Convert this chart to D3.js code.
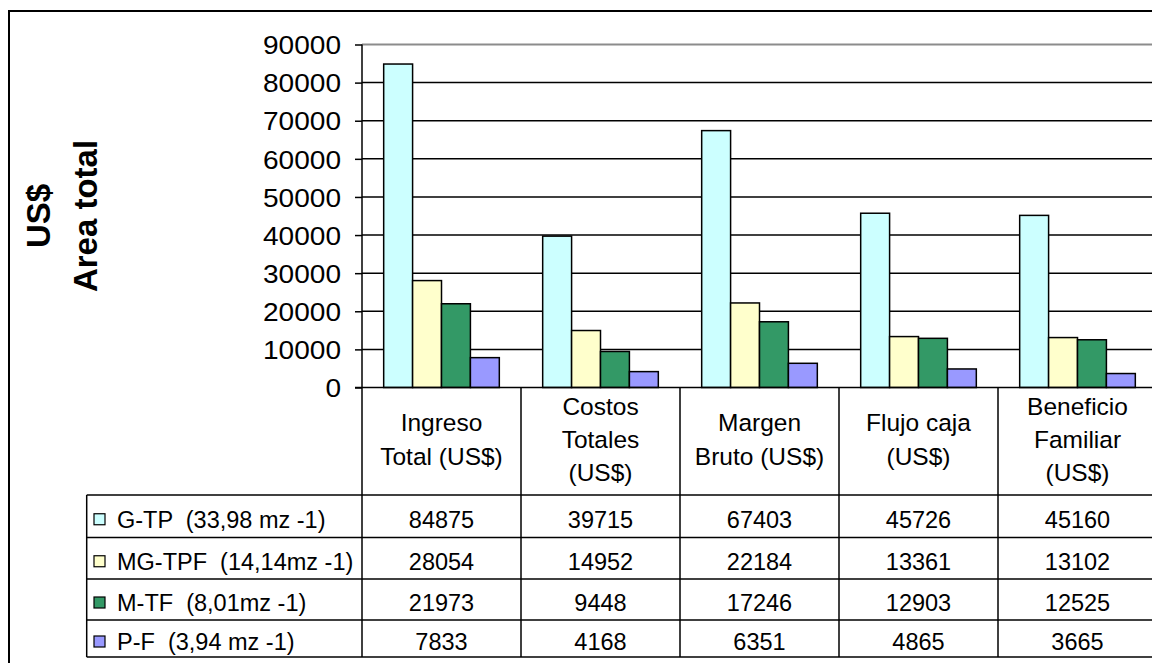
<!DOCTYPE html>
<html>
<head>
<meta charset="utf-8">
<script src="https://cdn.jsdelivr.net/npm/d3@7"></script>
<style>
  html, body { margin: 0; padding: 0; background: #fff; }
  svg { display: block; font-family: "Liberation Sans", Arial, sans-serif; }
  .pre { white-space: pre; }
</style>
</head>
<body>
<svg id="chart" width="1152" height="663"></svg>
<script>
// ---- data ----
const categories = ["Ingreso Total (US$)", "Costos Totales (US$)", "Margen Bruto (US$)", "Flujo caja (US$)", "Beneficio Familiar (US$)"];
const categoryLines = [["Ingreso", "Total (US$)"], ["Costos", "Totales", "(US$)"], ["Margen", "Bruto (US$)"], ["Flujo caja", "(US$)"], ["Beneficio", "Familiar", "(US$)"]];
const seriesNames = ["G-TP  (33,98 mz -1)", "MG-TPF  (14,14mz -1)", "M-TF  (8,01mz -1)", "P-F  (3,94 mz -1)"];
const gtpValues   = [84875, 39715, 67403, 45726, 45160];
const mgtpfValues = [28054, 14952, 22184, 13361, 13102];
const mtfValues   = [21973,  9448, 17246, 12903, 12525];
const pfValues    = [ 7833,  4168,  6351,  4865,  3665];
const yTicks = [0, 10000, 20000, 30000, 40000, 50000, 60000, 70000, 80000, 90000];
const axisTitle = ["US$", "Area total"];

const seriesValues = [gtpValues, mgtpfValues, mtfValues, pfValues];
const seriesColors = ["#CCFFFF", "#FFFFCC", "#339966", "#9999FF"];

// ---- layout ----
const svg = d3.select("#chart");
const W = 1152, H = 663;
const plotLeft = 362, plotRight = 1157, plotTop = 44.5, plotBottom = 387.5;
const tableLeft = 86.7, gridEnd = 1165;
const rowLines = [495, 537.5, 579, 620, 657];

const x = d3.scaleBand().domain(categories).range([plotLeft, plotRight]).paddingInner(0).paddingOuter(0);
const xs = d3.scaleBand().domain(d3.range(seriesNames.length)).range([0, x.bandwidth()]).paddingInner(0).paddingOuter(0.75);
const y = d3.scaleLinear().domain([0, 90000]).range([plotBottom, plotTop]);

svg.append("rect").attr("width", W).attr("height", H).attr("fill", "#fff");

// outer chart border
svg.append("rect")
  .attr("x", 9).attr("y", 11).attr("width", W + 20).attr("height", H + 20)
  .attr("fill", "none").attr("stroke", "#000").attr("stroke-width", 2);

// gridlines
svg.append("g").selectAll("line").data(yTicks.filter(d => d > 0)).join("line")
  .attr("x1", plotLeft).attr("x2", gridEnd)
  .attr("y1", d => y(d)).attr("y2", d => y(d))
  .attr("stroke", d => d === 90000 ? "#8c8c8c" : "#000")
  .attr("stroke-width", d => d === 90000 ? 2 : 1.5);

// bars
const groups = svg.append("g").selectAll("g").data(categories).join("g")
  .attr("transform", d => `translate(${x(d)},0)`);
groups.selectAll("rect").data((c, ci) => seriesValues.map((vals, si) => ({ si, v: vals[ci] }))).join("rect")
  .attr("x", d => xs(d.si))
  .attr("width", xs.bandwidth())
  .attr("y", d => y(d.v))
  .attr("height", d => y(0) - y(d.v))
  .attr("fill", d => seriesColors[d.si])
  .attr("stroke", "#000").attr("stroke-width", 1.5);

// y axis
const yAxis = d3.axisLeft(y).tickValues(yTicks).tickSize(7).tickFormat(d3.format("d"));
const ya = svg.append("g").attr("transform", `translate(${plotLeft},0)`).call(yAxis);
ya.select(".domain").remove();
ya.selectAll(".tick line").attr("stroke", "#000").attr("stroke-width", 1.5);
ya.selectAll(".tick text").remove();
ya.selectAll(".tick").append("text")
  .attr("transform", "translate(-21,9.2) scale(1.1,1)")
  .attr("text-anchor", "end")
  .attr("font-size", 25.5)
  .attr("fill", "#000")
  .text(d => d3.format("d")(d));

// axis title
svg.append("g").attr("transform", `translate(0,${(plotTop + plotBottom) / 2})`)
  .selectAll("text").data(axisTitle).join("text")
  .attr("transform", (d, i) => `translate(${49.5 + i * 47},0) rotate(-90)`)
  .attr("text-anchor", "middle")
  .attr("font-weight", "bold")
  .attr("font-size", 33)
  .attr("fill", "#000")
  .text(d => d);

// ---- data table ----
const lines = svg.append("g").attr("stroke", "#000").attr("stroke-width", 1.5);
// axis line continuing down through the table
lines.append("line").attr("x1", plotLeft).attr("x2", plotLeft).attr("y1", plotTop).attr("y2", rowLines[rowLines.length - 1]);
// category baseline
lines.append("line").attr("x1", plotLeft - 7).attr("x2", gridEnd).attr("y1", plotBottom).attr("y2", plotBottom);
// row lines
lines.selectAll(".row").data(rowLines).join("line").attr("class", "row")
  .attr("x1", tableLeft).attr("x2", gridEnd).attr("y1", d => d).attr("y2", d => d);
// left table border
lines.append("line").attr("x1", tableLeft).attr("x2", tableLeft).attr("y1", rowLines[0]).attr("y2", rowLines[rowLines.length - 1]);
// column dividers
lines.selectAll(".col").data(categories.slice(1)).join("line").attr("class", "col")
  .attr("x1", d => x(d)).attr("x2", d => x(d))
  .attr("y1", plotBottom).attr("y2", rowLines[rowLines.length - 1]);

// category labels
const lineH = 33.3, headerMid = 448;
svg.append("g").selectAll("g").data(categories).join("g")
  .attr("transform", d => `translate(${x(d) + x.bandwidth() / 2},0)`)
  .each(function (d, ci) {
    const ls = categoryLines[ci];
    d3.select(this).selectAll("text").data(ls).join("text")
      .attr("y", (t, i) => headerMid + (i - (ls.length - 1) / 2) * lineH)
      .attr("text-anchor", "middle")
      .attr("font-size", 24.5)
      .attr("fill", "#000")
      .text(t => t);
  });

// table rows
const rowMid = i => (rowLines[i] + rowLines[i + 1]) / 2 + 3;
const rows = svg.append("g").selectAll("g").data(seriesNames).join("g");
rows.append("rect")
  .attr("x", 94).attr("width", 11)
  .attr("y", (d, i) => rowMid(i) - 5.5).attr("height", 11)
  .attr("fill", (d, i) => seriesColors[i])
  .attr("stroke", "#000").attr("stroke-width", 1.2);
rows.append("text")
  .attr("class", "pre")
  .attr("x", 117)
  .attr("y", (d, i) => rowMid(i) + 8.4)
  .attr("font-size", 23.5)
  .attr("fill", "#000")
  .text(d => d);
rows.each(function (d, si) {
  d3.select(this).selectAll(".val").data(seriesValues[si]).join("text").attr("class", "val")
    .attr("x", (v, ci) => x(categories[ci]) + x.bandwidth() / 2)
    .attr("y", rowMid(si) + 8.4)
    .attr("text-anchor", "middle")
    .attr("font-size", 23.5)
    .attr("fill", "#000")
    .text(v => v);
});
</script>
</body>
</html>
